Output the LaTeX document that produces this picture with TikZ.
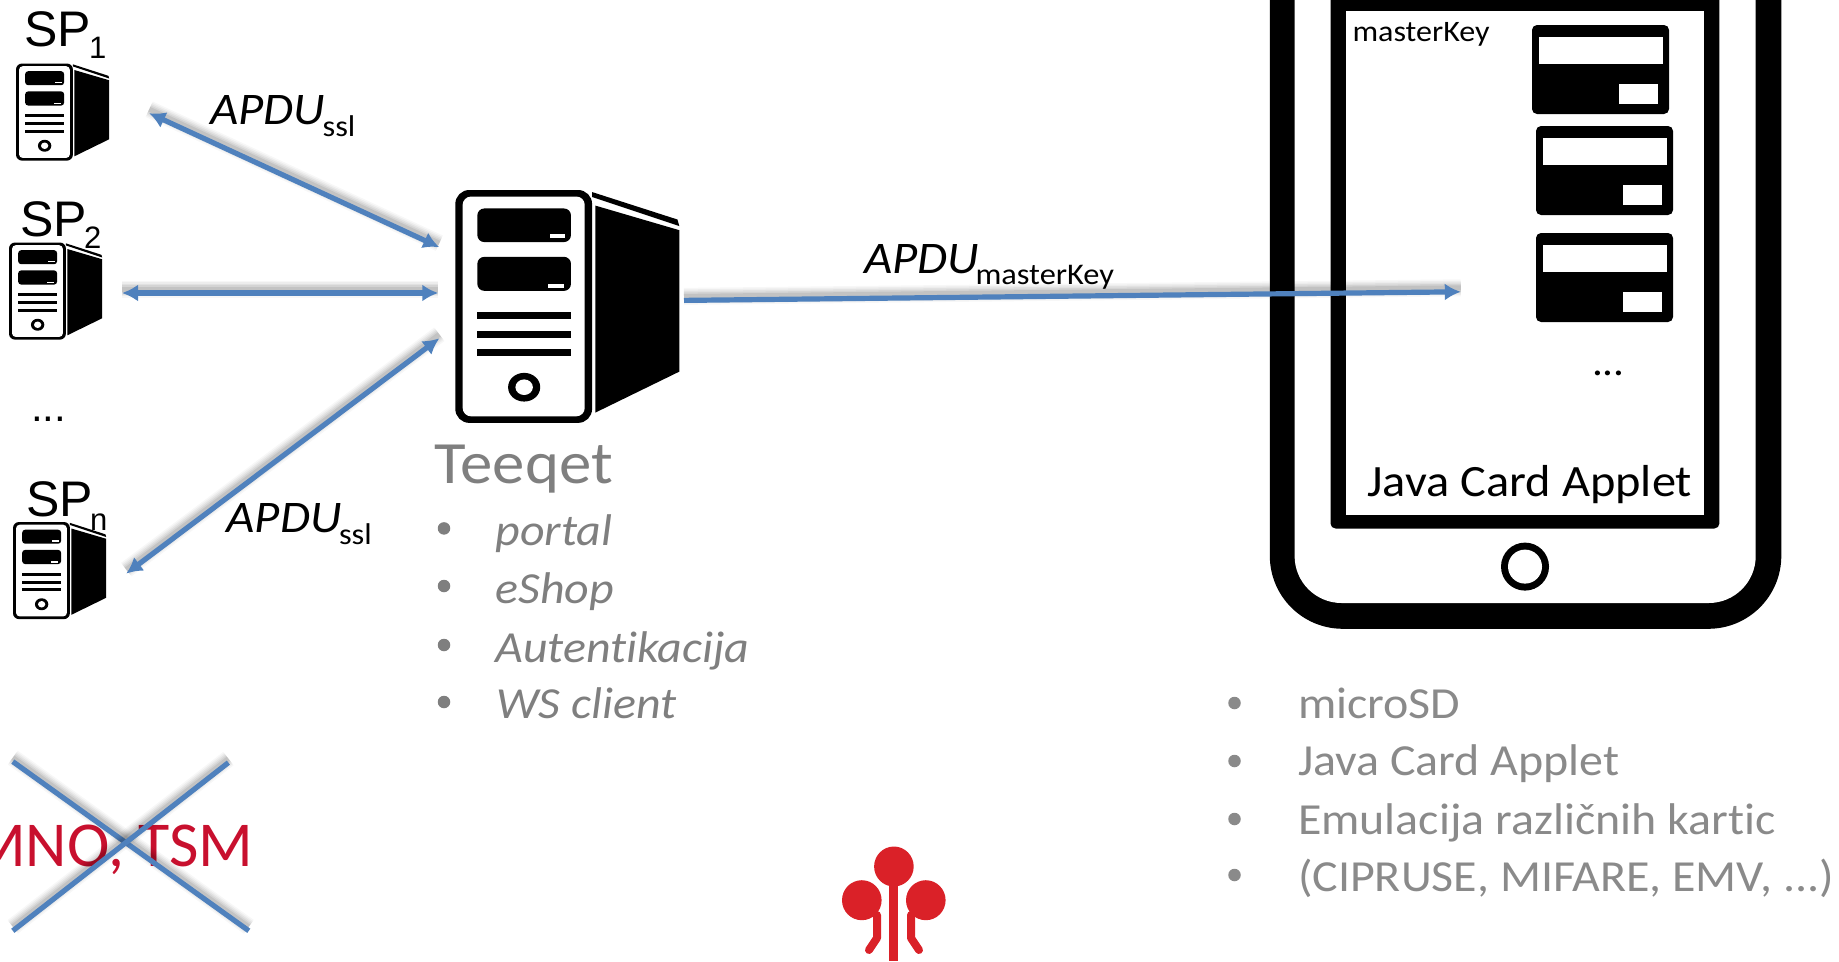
\documentclass[tikz,border=0pt]{standalone}
\usepackage{fontspec}
\usetikzlibrary{arrows.meta,calc}
\setmainfont{Carlito}
\newfontfamily\fntCb[FakeStretch=1.08,Ligatures=NoCommon]{Carlito}
\newfontfamily\fntCr[FakeStretch=1.0,Ligatures=NoCommon]{Carlito}
\newfontfamily\fntAr{Liberation Sans}
\newcommand\fsz[1]{\fontsize{#1}{#1}\selectfont}
\definecolor{linkblue}{HTML}{4F81BD}
\definecolor{txtgray}{HTML}{7F7F7F}
\definecolor{lightgray2}{HTML}{8A8A8A}
\definecolor{mnored}{HTML}{C8102E}
\definecolor{logored}{HTML}{DA2128}
\tikzset{
  txt/.style={inner sep=0pt,outer sep=0pt,anchor=base west},
  softshadow/.style={
    preaction={draw=black,opacity=.03,line width=17pt,arrows=-,transform canvas={yshift=4pt}},
    preaction={draw=black,opacity=.04,line width=14pt,arrows=-,transform canvas={yshift=4pt}},
    preaction={draw=black,opacity=.05,line width=11pt,arrows=-,transform canvas={yshift=4pt}},
    preaction={draw=black,opacity=.06,line width=8pt,arrows=-,transform canvas={yshift=4pt}},
    preaction={draw=black,opacity=.08,line width=5pt,arrows=-,transform canvas={yshift=4pt}}},
  link/.style={draw=linkblue,line width=5.2pt,softshadow},
  both/.style={link,{Latex[length=16pt,width=17pt]}-{Latex[length=16pt,width=17pt]}},
  one/.style={link,-{Latex[length=16pt,width=17pt]}},
  bul/.style={circle,fill=#1,minimum size=12.5pt,inner sep=0pt},
  cardshape/.style={fill=black,rounded corners=5pt},
}
% server: #1 x, #2 y, #3 sx, #4 sy, #5 radius, #6 name
\newcommand\serverdraw[6]{%
\begin{scope}[shift={(#1,#2)},xscale=#3,yscale=#4]
  \coordinate (#6) at (0,0);
  \fill[black,rounded corners=#5 pt] (0,0) rectangle (298,568);
  \fill[white,rounded corners=.6*#5 pt] (16,16) rectangle (282,552);
  \fill[black,rounded corners=.5*#5 pt] (48,45) rectangle (252,127);
  \fill[black,rounded corners=.5*#5 pt] (48,163) rectangle (252,246);
  \fill[white] (206,108) rectangle (240,116);
  \fill[white] (201,230) rectangle (236,238);
  \fill[black] (48,298) rectangle (252,315);
  \fill[black] (48,343) rectangle (252,360);
  \fill[black] (48,387) rectangle (252,405);
  \fill[black] (150,481) circle (35);
  \fill[white] (150,481) circle (19);
  \fill[black] (305,38) -- (488,98) -- (488,443) -- (305,543) -- cycle;
  \fill[black] (298,5) -- (484,72) -- (488,88) -- (298,17) -- cycle;
\end{scope}}
\newcommand\carddraw[2]{%
  \fill[cardshape] (#1,#2) rectangle ++(137,89);
  \fill[white] ($(#1,#2)+(6.5,12.3)$) rectangle ++(124,26.3);
  \fill[white] ($(#1,#2)+(86.5,59)$) rectangle ++(39.6,20.3);}
\newcommand\splabel[7]{% name x y main sub subx suby
  \node[txt,font=\fntAr\fsz{50}] (#1) at (#2,#3) {#4};
  \node[txt,font=\fntAr\fsz{31}] (#1s) at (#6,#7) {#5};}
\newcommand\apdu[7]{% name x y sub subx suby subsize
  \node[txt,font=\fntCb\itshape\fsz{45.2}] (#1) at (#2,#3) {APDU};
  \node[txt,font=\fntCb\fsz{#7}] (#1s) at (#5,#6) {#4};}
\begin{document}
\begin{tikzpicture}[x=1pt,y=-1pt]
\useasboundingbox (0,0) rectangle (1839,961);
% servers
\serverdraw{16}{63.5}{.191}{.171}{6}{srvA}
\serverdraw{9}{242.5}{.191}{.171}{6}{srvB}
\serverdraw{13}{522}{.191}{.171}{6}{srvN}
\serverdraw{455.3}{190}{.459}{.41}{14}{srvT}
% labels of servers
\splabel{spA}{24}{46}{SP}{1}{89}{58.5}
\splabel{spB}{20.4}{236.5}{SP}{2}{84}{248.5}
\splabel{spN}{26}{516}{SP}{n}{90}{530}
\node[txt,font=\fntAr\fsz{42}] (dotsL) at (31,421) {...};
% phone
\fill[black,rounded corners=73pt] (1269.8,-120) rectangle (1781.3,628.8);
\fill[white,rounded corners=47pt] (1294.6,-120) rectangle (1755.7,603);
\fill[black,rounded corners=5pt] (1330.5,-20) rectangle (1719.4,528.5);
\fill[white] (1346.2,11) rectangle (1703.7,515);
\fill[black] (1525,566.6) circle (24);
\fill[white] (1525,566.6) circle (17);
\carddraw{1532}{25}
\carddraw{1536}{126}
\carddraw{1536}{233}
\node[txt,font=\fntCb\fsz{40}] (dotsR) at (1592,375) {...};
\node[txt,font=\fntCb\fsz{29.7}] (mk) at (1352.5,41.5) {masterKey};
\node[txt,font=\fntCb\fsz{44.8}] (jca) at (1367.5,496.6) {Java Card Applet};
% anchors for connectors
\coordinate (a1) at (149.2,113.2);
\coordinate (b1) at (439.3,247.2);
\coordinate (a2) at (122,293);
\coordinate (b2) at (438.3,293);
\coordinate (a3) at (126.2,573.6);
\coordinate (b3) at (439.3,338.3);
\coordinate (c1) at (684,300.4);
\coordinate (c2) at (1460.8,291.8);
\draw[both] (a1) -- (b1);
\draw[both] (a2) -- (b2);
\draw[both] (a3) -- (b3);
\draw[one] (c1) -- (c2);
% apdu labels
\apdu{ap1}{210}{124}{ssl}{322.6}{136}{30}
\apdu{ap2}{226.5}{532.5}{ssl}{339}{544}{30}
\apdu{ap3}{864}{273.5}{masterKey}{975.5}{284.5}{30}
% Teeqet
\node[txt,font=\fntCb\fsz{60},text=txtgray] (teeqet) at (434.7,483) {Teeqet};
\foreach \n/\y/\by/\s/\xx in {p/545/528.4/portal/495.5,e/603.5/586/eShop/495.5,a/662/645/Autentikacija/495.5,w/718/702/WS client/496.5}{
  \node[bul=txtgray] (bl\n) at (444,\by) {};
  \node[txt,font=\fntCb\itshape\fsz{44.4},text=txtgray] (tl\n) at (\xx,\y) {\s};
}
% right list
\foreach \n/\y/\by/\s in {m/718.5/703/microSD,j/775/761/Java Card Applet,k/834/819/Emulacija različnih kartic,c/891/875/{(CIPRUSE, MIFARE, EMV, ...)}}{
  \node[bul=lightgray2] (br\n) at (1234.5,\by) {};
  \node[txt,font=\fntCb\fsz{44.4},text=lightgray2] (tr\n) at (1298,\y) {\s};
}
% MNO
\node[inner sep=0pt,outer sep=0pt,anchor=base east,font=\fntCr\fsz{64},text=mnored] (mno) at (253.5,866.5) {MNO, TSM};
\coordinate (x1) at (12.8,761.6);
\coordinate (x2) at (248.8,930.8);
\coordinate (x3) at (228.4,762.6);
\coordinate (x4) at (12.8,930.8);
\draw[link] (x1) -- (x2);
\draw[link] (x3) -- (x4);
% logo
\fill[logored] (893.9,866.5) ellipse [x radius=19.8,y radius=20];
\fill[logored] (861.8,900.2) ellipse [x radius=19.8,y radius=20];
\fill[logored] (925.8,900.2) ellipse [x radius=19.8,y radius=20];
\fill[logored] (889.4,880) rectangle (898.3,961);
\draw[logored,line width=8pt,line join=round,line cap=round] (877,915) -- (877,938) -- (869,950);
\draw[logored,line width=8pt,line join=round,line cap=round] (911,915) -- (911,938) -- (919,950);
\end{tikzpicture}
\end{document}
